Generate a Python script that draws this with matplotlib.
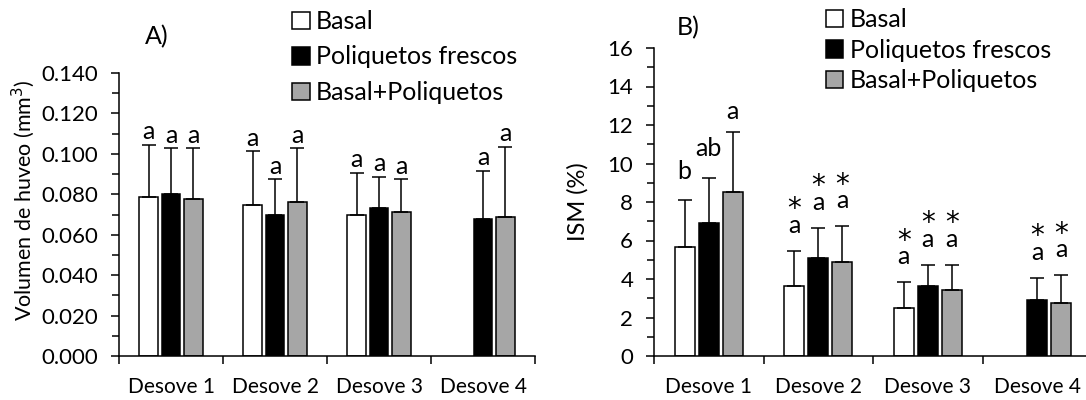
import numpy as np
import matplotlib.pyplot as plt
from matplotlib.patches import Patch
from matplotlib.ticker import MultipleLocator, FixedLocator, NullFormatter

plt.rcParams['font.family'] = ['Lato', 'DejaVu Sans']

# Data
categories = ["Desove 1", "Desove 2", "Desove 3", "Desove 4"]
series = ["Basal", "Poliquetos frescos", "Basal+Poliquetos"]
colors = ["white", "black", "#a6a6a6"]

# Panel A: volumen de huevo (mm3)
vol_mean = [[0.0787, 0.0749, 0.0698, np.nan],
            [0.0800, 0.0698, 0.0730, 0.0679],
            [0.0779, 0.0761, 0.0710, 0.0689]]
vol_top = [[0.1046, 0.1013, 0.0907, np.nan],
           [0.1028, 0.0874, 0.0887, 0.0915],
           [0.1028, 0.1028, 0.0875, 0.1036]]
vol_labels = [["a", "a", "a", ""],
              ["a", "a", "a", "a"],
              ["a", "a", "a", "a"]]
vol_stars = [[False] * 4, [False] * 4, [False] * 4]

# Panel B: ISM (%)
ism_mean = [[5.66, 3.64, 2.47, np.nan],
            [6.93, 5.09, 3.62, 2.91],
            [8.50, 4.86, 3.43, 2.76]]
ism_top = [[8.10, 5.47, 3.84, np.nan],
           [9.24, 6.67, 4.74, 4.07],
           [11.66, 6.74, 4.74, 4.21]]
ism_labels = [["b", "a", "a", ""],
              ["ab", "a", "a", "a"],
              ["a", "a", "a", "a"]]
ism_stars = [[False, True, True, False],
             [False, True, True, True],
             [False, True, True, True]]


def draw_panel(ax, means, tops, labels, stars, ymax, ystep, yminor, fmt,
               bar_w, spacing, offs):
    x = np.arange(len(categories)) + 0.5
    for i in range(len(series)):
        m = np.array(means[i])
        t = np.array(tops[i])
        xs = x + (i - 1) * spacing
        ok = ~np.isnan(m)
        ax.bar(xs[ok], m[ok], width=bar_w, color=colors[i], edgecolor="black",
               linewidth=1.1, zorder=2)
        ax.errorbar(xs[ok], m[ok], yerr=[np.zeros(ok.sum()), (t - m)[ok]],
                    fmt="none", ecolor="black", elinewidth=1.1, capsize=5,
                    capthick=1.1, zorder=3)
        for xi, ti, lab, st in zip(xs, t, labels[i], stars[i]):
            if not lab:
                continue
            off = offs["star"] if st else offs.get(lab, offs["a"])
            ax.annotate(lab, (xi, ti), xytext=(0, off), textcoords="offset points",
                        ha="center", va="baseline", fontsize=18)
            if st:
                ax.annotate("*", (xi, ti), xytext=(0, off + 11), textcoords="offset points",
                            ha="center", va="baseline", fontsize=20,
                            family=["DejaVu Sans"])
    ax.set_xlim(0, len(categories))
    ax.set_ylim(0, ymax)
    ax.yaxis.set_major_locator(MultipleLocator(ystep))
    ax.yaxis.set_minor_locator(MultipleLocator(yminor))
    ax.yaxis.set_major_formatter(fmt)
    ax.xaxis.set_major_locator(FixedLocator(range(len(categories) + 1)))
    ax.xaxis.set_major_formatter(NullFormatter())
    ax.xaxis.set_minor_locator(FixedLocator(x))
    ax.set_xticklabels(categories, minor=True)
    ax.tick_params(axis="x", which="major", direction="out", length=6, width=1.1)
    ax.tick_params(axis="x", which="minor", length=0, pad=15, labelsize=15)
    ax.tick_params(axis="y", which="both", direction="out", width=1.1, labelsize=16)
    ax.tick_params(axis="y", which="major", length=6, pad=9)
    ax.tick_params(axis="y", which="minor", length=5)
    for s in ["top", "right"]:
        ax.spines[s].set_visible(False)
    for s in ["left", "bottom"]:
        ax.spines[s].set_linewidth(1.1)


fig = plt.figure(figsize=(10.86, 4), dpi=100)
W, H = 1086, 400

axA = fig.add_axes([119 / W, 1 - 356 / H, (535 - 119) / W, (356 - 73) / H])
draw_panel(axA, vol_mean, vol_top, vol_labels, vol_stars, 0.140, 0.020, 0.010,
           plt.FuncFormatter(lambda v, p: f"{v:.3f}"), 0.175, 0.216, {"a": 4})
axA.set_ylabel("Volumen de huveo (mm$^3$)", fontsize=15.5)
axA.yaxis.set_label_coords(-0.197, 0.55)

axB = fig.add_axes([654 / W, 1 - 356 / H, (1092 - 654) / W, (356 - 48) / H])
draw_panel(axB, ism_mean, ism_top, ism_labels, ism_stars, 16, 2, 1,
           plt.FuncFormatter(lambda v, p: f"{v:.0f}"), 0.18, 0.22,
           {"a": 9, "b": 15, "ab": 16, "star": 13})
axB.set_ylabel("ISM (%)", fontsize=17)
axB.yaxis.set_label_coords(-0.15, 0.5)

fig.text(157 / W, 1 - 37 / H, "A)", fontsize=18, ha="center", va="center")
fig.text(688 / W, 1 - 28 / H, "B)", fontsize=18, ha="center", va="center")

handles = [Patch(facecolor=c, edgecolor="black", linewidth=1.1) for c in colors]
for anchor, sp in [((292 / W, 1 - 10 / H), 0.5), ((826 / W, 1 - 8 / H), 0.3)]:
    fig.legend(handles, series, loc="upper left", bbox_to_anchor=anchor,
               frameon=False, fontsize=18, handlelength=0.7, handleheight=0.7,
               handletextpad=0.25, labelspacing=sp, borderpad=0, borderaxespad=0)

fig.savefig("out.png", dpi=100)
